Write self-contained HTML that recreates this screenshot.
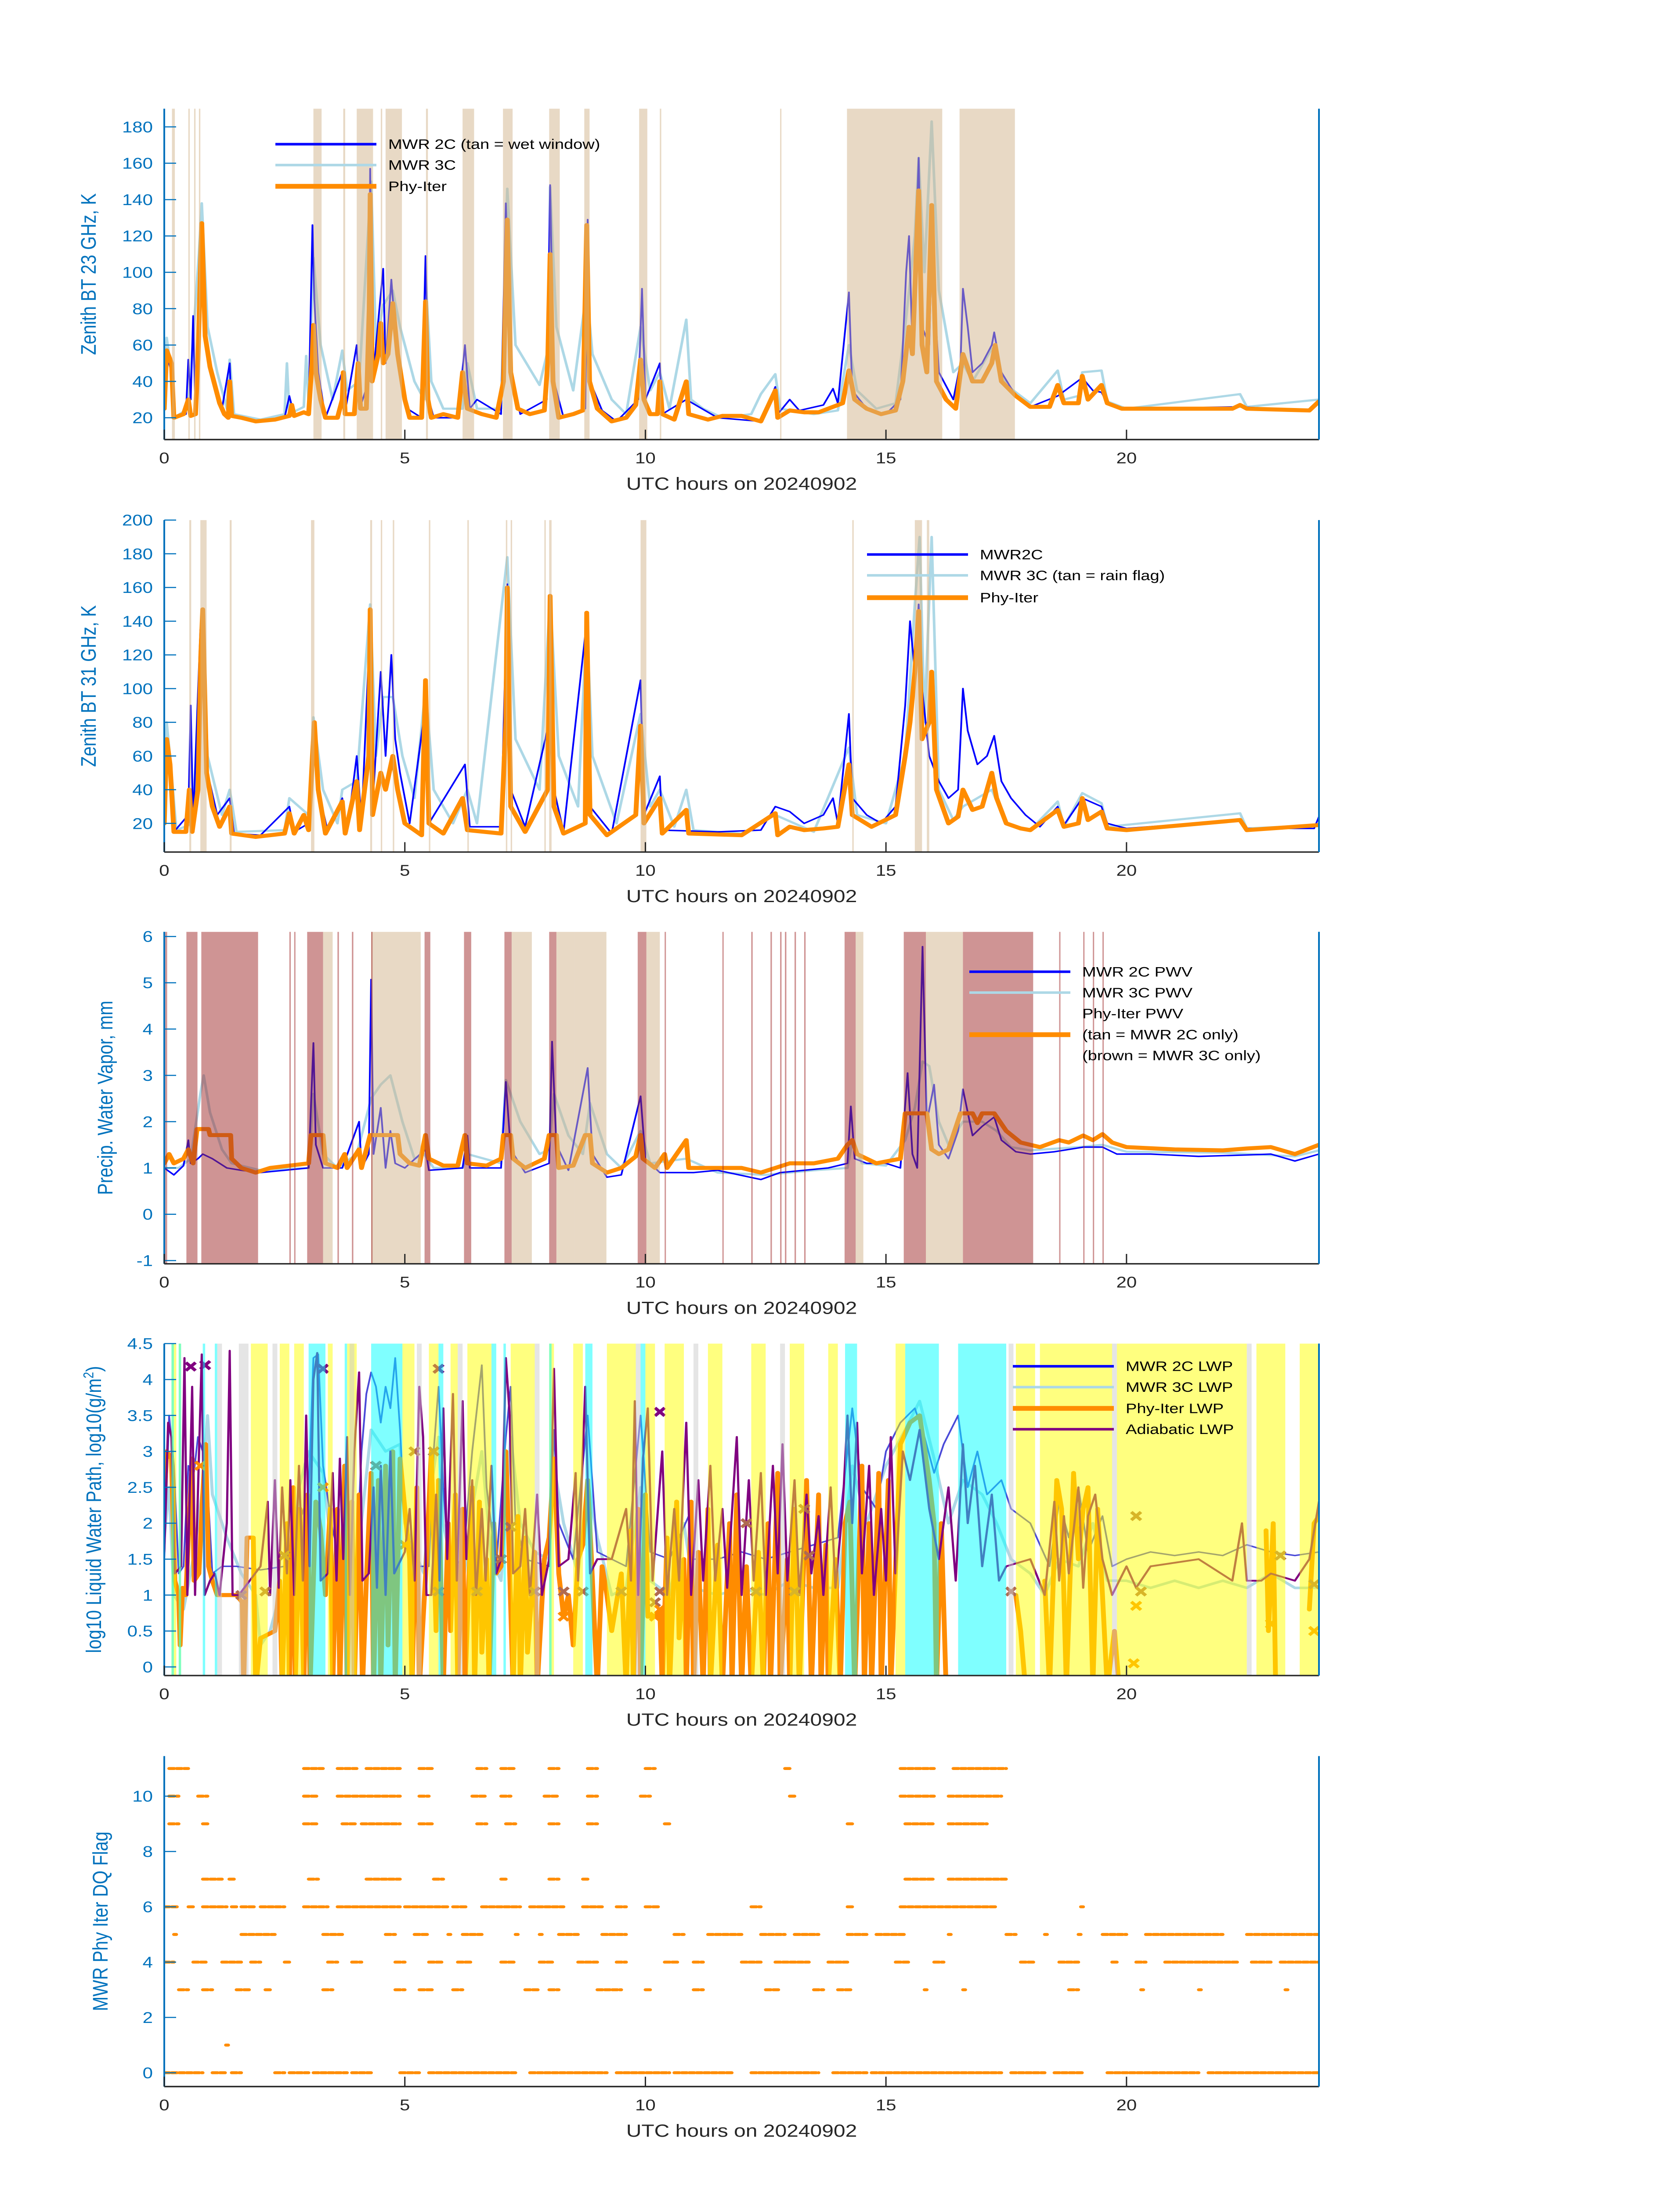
<!DOCTYPE html>
<html><head><meta charset="utf-8"><style>
html,body{margin:0;padding:0;background:#fff;width:100%;height:100%;overflow:hidden;}
svg{display:block;position:absolute;left:0;top:0;width:100%;height:100%;font-family:"Liberation Sans","DejaVu Sans",sans-serif;}
</style></head><body>
<svg id="fig" width="100%" height="100%" viewBox="0 0 3825 6000" preserveAspectRatio="none" xmlns="http://www.w3.org/2000/svg"></svg>
<script>
// ---------------- DATA ----------------
const xTicks=[0,5,10,15,20];
const yTicks1=[20,40,60,80,100,120,140,160,180];
const yTicks2=[20,40,60,80,100,120,140,160,180,200];
const yTicks3=[-1,0,1,2,3,4,5,6];
const yTicks4=[0,0.5,1,1.5,2,2.5,3,3.5,4,4.5];
const yTickLabels4=["0","0.5","1","1.5","2","2.5","3","3.5","4","4.5"];
const yTicks5=[0,2,4,6,8,10];

// Panel 1: 23 GHz BT
const tb23_2c=[[0,25],[0.05,55],[0.15,45],[0.2,20],[0.45,22],[0.5,52],[0.55,30],[0.6,76],[0.65,22],[0.72,100],[0.78,120],[0.85,60],[1.0,40],[1.2,25],[1.36,50],[1.4,21],[1.9,18],[2.5,20],[2.6,32],[2.7,21],[3.0,23],[3.08,126],[3.12,85],[3.2,45],[3.35,20],[3.7,45],[3.75,22],[4.0,60],[4.06,25],[4.25,40],[4.28,157],[4.33,40],[4.55,102],[4.6,50],[4.72,96],[4.85,50],[5.05,25],[5.35,20],[5.43,109],[5.5,30],[5.6,20],[6.1,20],[6.25,60],[6.35,25],[6.5,30],[7.0,22],[7.1,138],[7.2,45],[7.4,22],[7.95,30],[8.02,148],[8.1,40],[8.3,20],[8.75,25],[8.8,129],[8.85,40],[9.1,24],[9.4,18],[9.85,30],[9.93,91],[10.0,30],[10.3,50],[10.35,22],[10.85,30],[11.5,20],[12.4,18],[12.7,37],[12.75,22],[13.0,30],[13.2,24],[13.7,27],[13.9,36],[14.0,28],[14.23,89],[14.3,35],[14.6,25],[15.0,22],[15.3,30],[15.42,100],[15.48,120],[15.55,60],[15.68,163],[15.75,70],[15.9,60],[15.95,110],[16.1,45],[16.4,30],[16.55,50],[16.6,91],[16.7,70],[16.8,45],[17.0,50],[17.2,60],[17.25,67],[17.4,45],[17.7,32],[18.0,26],[18.57,32],[19.08,42],[19.3,35],[19.48,34],[19.6,28],[19.9,25],[22.36,26],[23.8,24],[24,29]];
const tb23_3c=[[0,30],[0.05,64],[0.15,45],[0.2,20],[0.5,25],[0.72,110],[0.78,138],[0.9,70],[1.1,45],[1.3,25],[1.36,52],[1.45,22],[2.0,19],[2.5,22],[2.55,50],[2.6,22],[2.9,26],[2.95,54],[3.0,28],[3.1,108],[3.25,60],[3.5,30],[3.7,57],[3.8,35],[4.05,40],[4.3,150],[4.4,60],[4.55,82],[4.75,90],[4.9,70],[5.2,40],[5.4,30],[5.43,98],[5.55,40],[5.8,25],[6.2,25],[6.3,50],[6.5,25],[7.0,25],[7.13,146],[7.3,60],[7.8,38],[8.0,60],[8.02,147],[8.15,70],[8.5,35],[8.78,90],[8.9,55],[9.3,30],[9.6,22],[9.9,70],[10.1,35],[10.3,45],[10.5,25],[10.85,74],[10.95,30],[11.2,25],[11.6,20],[12.2,22],[12.4,33],[12.7,44],[12.8,25],[13.5,22],[14.0,24],[14.23,60],[14.4,35],[14.8,25],[15.2,28],[15.4,70],[15.6,120],[15.68,163],[15.8,100],[15.95,183],[16.1,90],[16.4,45],[16.6,50],[16.8,40],[17.2,58],[17.5,38],[18.0,28],[18.57,46],[18.7,30],[19.0,32],[19.08,45],[19.48,46],[19.6,29],[20.0,25],[22.36,33],[22.5,26],[24,30]];
const tb23_phy=[[0,25],[0.05,57],[0.15,50],[0.2,20],[0.4,22],[0.5,30],[0.55,21],[0.65,22],[0.7,52],[0.75,100],[0.78,127],[0.85,65],[0.95,48],[1.05,38],[1.15,28],[1.25,22],[1.33,20],[1.36,40],[1.4,21],[1.6,20],[1.9,18],[2.3,19],[2.6,21],[2.65,27],[2.7,21],[2.9,23],[3.0,22],[3.07,50],[3.1,71],[3.15,45],[3.25,30],[3.35,20],[3.6,20],[3.7,30],[3.72,45],[3.76,22],[3.95,22],[4.03,50],[4.08,25],[4.2,25],[4.26,80],[4.28,143],[4.32,40],[4.45,55],[4.5,72],[4.55,50],[4.65,55],[4.75,83],[4.85,55],[5.0,30],[5.1,20],[5.35,20],[5.43,84],[5.48,30],[5.55,20],[5.8,22],[6.1,20],[6.2,45],[6.3,25],[6.6,22],[6.9,20],[7.05,40],[7.13,129],[7.2,45],[7.35,25],[7.6,22],[7.9,24],[7.97,50],[8.02,110],[8.08,40],[8.2,20],[8.5,22],[8.7,24],[8.78,126],[8.84,40],[9.0,25],[9.3,18],[9.6,20],[9.8,27],[9.9,52],[9.97,30],[10.1,22],[10.25,22],[10.3,40],[10.35,22],[10.6,19],[10.85,40],[10.9,22],[11.3,19],[11.6,21],[12.0,21],[12.4,18],[12.7,35],[12.75,20],[13.0,24],[13.3,23],[13.6,23],[13.9,26],[14.1,28],[14.23,46],[14.35,30],[14.6,25],[14.9,22],[15.2,24],[15.35,40],[15.48,70],[15.55,55],[15.65,125],[15.68,145],[15.75,60],[15.85,45],[15.95,137],[16.05,40],[16.25,30],[16.45,25],[16.55,45],[16.6,55],[16.8,40],[17.0,40],[17.2,50],[17.27,60],[17.4,40],[17.7,32],[18.0,26],[18.4,26],[18.57,38],[18.7,28],[19.0,28],[19.08,43],[19.2,30],[19.48,38],[19.6,28],[19.9,25],[21.0,25],[22.2,25],[22.36,27],[22.5,25],[23.8,24],[24,29]];
const bands1_tan=[[0.16,0.22],[0.5,0.53],[0.62,0.65],[0.72,0.75],[3.1,3.27],[3.72,3.76],[4.0,4.34],[4.5,4.53],[4.6,4.94],[5.44,5.48],[6.2,6.44],[7.04,7.24],[8.0,8.22],[8.73,8.84],[9.87,10.04],[10.3,10.33],[12.8,12.82],[14.19,16.17],[16.53,17.68]];

// Panel 2: 31 GHz BT
const tb31_2c=[[0,20],[0.05,65],[0.15,40],[0.2,15],[0.5,25],[0.55,90],[0.6,20],[0.75,135],[0.8,130],[0.9,50],[1.1,25],[1.36,35],[1.45,14],[2.0,13],[2.6,30],[2.7,15],[3.0,20],[3.1,65],[3.2,40],[3.4,15],[3.7,35],[3.8,15],[4.0,60],[4.1,20],[4.28,140],[4.35,40],[4.5,110],[4.6,60],[4.72,120],[4.8,70],[4.9,50],[5.1,20],[5.43,90],[5.5,20],[6.25,55],[6.35,18],[7.0,18],[7.13,162],[7.2,40],[7.5,18],[8.0,80],[8.02,150],[8.1,40],[8.3,15],[8.8,145],[8.85,30],[9.3,14],[9.9,105],[9.97,25],[10.3,48],[10.35,16],[11.5,15],[12.4,16],[12.7,30],[13.0,27],[13.3,20],[13.7,25],[13.9,35],[14.0,20],[14.23,85],[14.3,35],[14.6,25],[14.9,20],[15.2,30],[15.4,90],[15.5,140],[15.6,110],[15.68,150],[15.75,100],[15.9,60],[16.1,45],[16.3,35],[16.5,40],[16.6,100],[16.7,75],[16.9,55],[17.1,60],[17.25,72],[17.4,45],[17.6,35],[17.9,25],[18.2,18],[18.57,30],[18.7,19],[19.08,35],[19.48,30],[19.6,20],[20.0,17],[22.36,22],[22.5,17],[23.9,17],[24,24]];
const tb31_3c=[[0,25],[0.05,80],[0.15,50],[0.25,16],[0.6,20],[0.78,145],[0.9,60],[1.2,25],[1.36,40],[1.5,15],[2.5,16],[2.6,35],[3.0,25],[3.1,83],[3.3,40],[3.6,20],[3.7,40],[4.0,45],[4.28,150],[4.4,60],[4.55,95],[4.75,95],[4.95,60],[5.2,35],[5.43,100],[5.6,40],[6.0,20],[6.3,40],[6.5,20],[7.13,178],[7.3,70],[7.8,40],[8.02,155],[8.2,60],[8.6,30],[8.78,140],[8.9,60],[9.4,20],[9.9,85],[10.1,30],[10.3,40],[10.6,18],[10.85,40],[11.0,16],[12.0,14],[12.7,25],[13.5,15],[14.23,65],[14.4,25],[15.0,20],[15.4,60],[15.6,150],[15.7,190],[15.8,80],[15.95,190],[16.1,40],[16.4,22],[16.6,30],[17.2,40],[17.5,20],[18.0,16],[18.57,33],[18.7,18],[19.08,38],[19.48,32],[19.6,18],[22.36,26],[22.5,17],[24,19]];
const tb31_phy=[[0,20],[0.05,70],[0.12,55],[0.2,15],[0.45,15],[0.52,40],[0.58,15],[0.7,40],[0.76,120],[0.8,147],[0.88,50],[1.0,30],[1.15,18],[1.36,30],[1.4,14],[1.9,12],[2.5,14],[2.6,26],[2.7,14],[2.9,25],[3.0,16],[3.08,60],[3.12,80],[3.2,40],[3.35,14],[3.7,33],[3.76,14],[4.0,45],[4.06,16],[4.25,60],[4.28,147],[4.33,25],[4.5,50],[4.6,40],[4.75,60],[4.85,40],[5.0,20],[5.35,13],[5.43,105],[5.5,20],[5.8,14],[6.2,35],[6.3,16],[7.0,14],[7.1,80],[7.13,160],[7.2,30],[7.5,15],[7.97,40],[8.02,155],[8.1,30],[8.3,14],[8.75,20],[8.78,145],[8.85,25],[9.2,13],[9.8,25],[9.9,78],[9.97,20],[10.3,35],[10.35,14],[10.85,28],[10.9,14],[12.0,13],[12.7,26],[12.75,13],[13.0,18],[13.3,16],[13.7,17],[14.0,18],[14.23,55],[14.3,25],[14.7,18],[15.2,25],[15.4,60],[15.5,80],[15.6,110],[15.68,146],[15.75,70],[15.9,80],[15.95,110],[16.05,40],[16.3,20],[16.5,24],[16.6,40],[16.8,28],[17.0,30],[17.2,50],[17.3,35],[17.5,20],[17.8,17],[18.0,16],[18.57,28],[18.7,18],[19.0,20],[19.08,35],[19.2,22],[19.48,27],[19.6,17],[20.0,16],[22.36,22],[22.5,16],[24,19]];
const bands2_tan=[[0.52,0.56],[0.75,0.88],[1.36,1.4],[3.05,3.12],[4.28,4.32],[4.5,4.53],[4.75,4.78],[5.5,5.53],[6.3,6.33],[7.1,7.13],[7.2,7.23],[7.9,7.93],[8.0,8.05],[9.9,10.02],[14.3,14.33],[15.6,15.75],[15.85,15.9]];

// Panel 3: PWV
const pwv_2c=[[0,1.0],[0.2,0.85],[0.4,1.05],[0.5,1.6],[0.55,1.1],[0.7,1.2],[0.8,1.3],[1.0,1.2],[1.3,1.0],[1.6,0.95],[2.0,0.9],[2.5,0.95],[3.0,1.0],[3.1,3.7],[3.15,1.5],[3.3,1.0],[3.7,1.0],[4.05,2.0],[4.1,1.0],[4.25,1.3],[4.3,5.07],[4.35,1.3],[4.5,2.3],[4.6,1.0],[4.7,1.8],[4.8,1.1],[5.0,1.0],[5.43,1.4],[5.5,0.95],[6.2,1.0],[6.3,1.7],[6.35,1.0],[7.0,1.0],[7.1,2.86],[7.2,1.4],[7.5,0.9],[8.0,1.1],[8.06,3.73],[8.15,1.5],[8.4,0.95],[8.8,3.16],[8.9,1.3],[9.2,0.8],[9.5,0.85],[9.9,2.55],[10.0,1.2],[10.3,0.9],[11.0,0.9],[11.5,0.95],[12.4,0.75],[12.8,0.9],[13.3,0.95],[13.8,1.0],[14.2,1.1],[14.27,2.33],[14.35,1.2],[14.6,1.1],[15.0,1.1],[15.3,1.0],[15.45,3.05],[15.55,1.3],[15.65,1.0],[15.76,5.78],[15.85,2.0],[16.0,2.8],[16.1,1.5],[16.3,1.2],[16.5,1.8],[16.6,2.7],[16.8,1.7],[17.0,1.9],[17.25,2.1],[17.4,1.6],[17.7,1.35],[18.0,1.3],[18.5,1.35],[19.1,1.45],[19.5,1.45],[19.8,1.3],[20.5,1.3],[21.5,1.25],[22.5,1.28],[23.0,1.3],[23.5,1.15],[24,1.3]];
const pwv_3c=[[0,1.0],[0.3,1.0],[0.55,1.2],[0.75,2.6],[0.82,3.0],[0.95,2.2],[1.2,1.4],[1.4,1.1],[2.0,0.95],[3.0,1.0],[3.1,2.6],[3.3,1.3],[3.6,1.0],[4.0,1.3],[4.3,2.5],[4.5,2.8],[4.7,3.0],[4.95,2.0],[5.2,1.2],[5.4,1.3],[5.6,1.0],[6.2,1.0],[6.3,1.3],[7.0,1.1],[7.1,2.9],[7.4,2.0],[7.8,1.3],[8.0,1.4],[8.1,2.6],[8.4,1.7],[8.7,1.3],[8.85,2.4],[9.2,1.3],[9.5,1.0],[9.9,1.8],[10.1,1.1],[10.85,1.2],[11.5,0.9],[12.5,0.85],[13.5,0.95],[14.2,1.0],[14.3,1.6],[14.5,1.1],[15.0,1.05],[15.4,1.6],[15.6,2.3],[15.76,3.3],[15.9,3.2],[16.1,2.0],[16.3,1.5],[16.6,2.0],[17.0,2.0],[17.3,1.8],[17.6,1.45],[18.0,1.38],[19.0,1.45],[19.5,1.5],[20.0,1.35],[22.0,1.33],[23.5,1.25],[24,1.38]];
const pwv_phy=[[0,1.1],[0.1,1.3],[0.2,1.1],[0.4,1.2],[0.5,1.4],[0.6,1.1],[0.68,1.84],[0.92,1.84],[0.95,1.71],[1.38,1.71],[1.4,1.2],[1.6,1.0],[1.9,0.9],[2.2,1.0],[2.6,1.05],[3.0,1.1],[3.05,1.71],[3.3,1.71],[3.35,1.1],[3.6,1.0],[3.75,1.3],[3.8,1.0],[4.05,1.4],[4.1,1.0],[4.28,1.71],[4.85,1.71],[4.9,1.3],[5.1,1.1],[5.3,1.05],[5.43,1.71],[5.5,1.2],[5.8,1.05],[6.1,1.05],[6.25,1.71],[6.3,1.1],[6.7,1.05],[7.0,1.2],[7.05,1.71],[7.2,1.71],[7.25,1.2],[7.5,1.0],[7.9,1.2],[8.0,1.71],[8.15,1.71],[8.2,1.0],[8.5,1.05],[8.75,1.71],[8.85,1.71],[8.9,1.1],[9.2,0.9],[9.5,1.0],[9.8,1.25],[9.9,1.71],[9.95,1.2],[10.2,1.0],[10.4,1.3],[10.45,1.0],[10.85,1.6],[10.9,1.0],[11.5,1.0],[12.0,1.0],[12.4,0.9],[12.7,1.0],[13.0,1.1],[13.5,1.1],[14.0,1.2],[14.2,1.5],[14.3,1.6],[14.4,1.3],[14.8,1.1],[15.3,1.2],[15.4,2.18],[15.85,2.18],[15.95,1.4],[16.1,1.3],[16.3,1.4],[16.55,2.18],[16.8,2.18],[16.9,1.97],[17.0,2.18],[17.25,2.18],[17.5,1.8],[17.8,1.55],[18.2,1.45],[18.6,1.6],[18.8,1.55],[19.1,1.7],[19.3,1.6],[19.5,1.73],[19.7,1.55],[20.0,1.45],[21.0,1.4],[22.0,1.38],[22.5,1.42],[23.0,1.45],[23.5,1.3],[24,1.5]];
const bands3_brown=[[0.02,0.06],[0.46,0.69],[0.77,1.95],[2.6,2.63],[2.7,2.72],[2.97,3.3],[3.6,3.63],[3.9,3.93],[4.3,4.33],[5.41,5.53],[6.23,6.38],[7.07,7.22],[8.0,8.15],[9.84,10.02],[10.4,10.42],[11.6,11.62],[12.2,12.23],[12.6,12.63],[12.8,12.83],[12.9,12.93],[13.1,13.13],[13.3,13.33],[14.14,14.37],[15.37,15.83],[16.6,18.06],[18.6,18.62],[19.1,19.12],[19.3,19.32],[19.5,19.52]];
const bands3_tan=[[3.3,3.5],[4.3,5.33],[7.22,7.64],[8.15,8.53],[8.53,9.19],[10.02,10.3],[14.37,14.53],[15.83,16.6]];

// Panel 4: LWP
const lwp_2c=[[0,1.5],[0.1,3.5],[0.2,2.8],[0.3,1.3],[0.4,1.4],[0.5,2.8],[0.6,2.6],[0.7,3.2],[0.8,3.0],[0.9,2.5],[1.0,1.3],[1.2,1.4],[1.5,1.4],[2.0,1.35],[2.5,1.4],[3.0,2.4],[3.1,4.3],[3.2,4.35],[3.3,2.8],[3.5,1.9],[3.7,1.4],[3.9,1.3],[4.0,1.5],[4.1,3.0],[4.2,3.8],[4.3,4.1],[4.4,3.9],[4.5,3.4],[4.6,3.9],[4.7,3.6],[4.8,4.3],[4.9,3.3],[5.0,2.0],[5.2,1.4],[5.5,1.4],[5.6,3.0],[5.7,3.9],[5.8,2.5],[5.9,1.6],[6.2,1.4],[6.4,3.0],[6.6,4.2],[6.7,2.5],[6.9,1.4],[7.1,3.2],[7.2,3.9],[7.3,2.0],[7.5,1.5],[8.0,1.4],[8.1,3.3],[8.2,2.0],[8.5,1.5],[8.8,3.5],[9.0,1.6],[9.3,1.5],[9.6,1.4],[9.9,3.5],[10.1,1.6],[10.5,1.5],[10.9,2.1],[11.0,1.5],[11.5,1.5],[12.0,1.6],[12.5,1.5],[13.0,1.6],[13.5,1.7],[14.0,1.8],[14.3,3.6],[14.5,2.5],[14.8,2.2],[15.0,3.0],[15.3,3.4],[15.6,3.6],[15.8,3.2],[16.0,2.7],[16.2,3.1],[16.5,3.5],[16.7,2.5],[16.9,3.0],[17.1,2.4],[17.4,2.6],[17.6,2.2],[18.0,2.0],[18.4,1.4],[18.6,2.3],[18.8,1.8],[19.0,2.5],[19.2,1.6],[19.5,2.1],[19.7,1.4],[20.0,1.5],[20.5,1.6],[21.0,1.55],[21.5,1.6],[22.0,1.55],[22.5,1.7],[23.0,1.6],[23.5,1.55],[24,1.6]];
const lwp_3c=[[0,1.8],[0.1,2.5],[0.2,1.0],[0.4,0.8],[0.6,1.5],[0.8,2.5],[0.9,3.5],[1.0,2.4],[1.3,1.8],[1.6,1.3],[1.9,1.0],[2.0,0.3],[2.2,0.5],[2.4,1.0],[2.6,0.8],[2.8,2.5],[3.0,3.0],[3.3,2.7],[3.5,1.5],[3.7,1.0],[3.9,0.8],[4.0,1.4],[4.3,3.3],[4.6,3.0],[4.9,3.1],[5.0,2.0],[5.2,1.6],[5.4,1.3],[5.5,2.3],[5.7,3.2],[5.8,2.0],[6.0,1.3],[6.2,1.1],[6.4,2.2],[6.6,3.0],[6.8,1.5],[7.0,1.2],[7.2,3.2],[7.4,2.0],[7.7,1.6],[8.0,1.5],[8.1,2.8],[8.3,2.0],[8.6,1.3],[8.8,2.6],[9.0,1.8],[9.3,1.0],[9.6,1.1],[9.9,2.5],[10.1,1.2],[10.5,1.0],[10.8,2.0],[11.0,1.1],[11.5,1.0],[12.0,1.1],[12.5,1.0],[13.0,1.2],[13.5,1.1],[14.0,1.1],[14.3,2.8],[14.6,2.0],[15.0,2.8],[15.4,3.3],[15.7,3.7],[16.0,2.9],[16.3,2.0],[16.6,2.6],[17.0,2.4],[17.3,2.0],[17.6,1.5],[18.0,1.3],[18.3,1.0],[18.6,1.5],[19.0,1.4],[19.3,2.0],[19.6,1.2],[20.0,1.2],[20.5,1.1],[21.0,1.2],[21.5,1.1],[22.0,1.2],[22.5,1.1],[23.0,1.3],[23.5,1.1],[24,1.1]];
const lwp_phy=[[0,2.3],[0.05,3.0],[0.15,2.9],[0.22,1.2],[0.3,1.0],[0.33,0.3],[0.38,1.1],[0.45,1.0],[0.5,1.8],[0.58,2.9],[0.62,1.2],[0.72,1.3],[0.8,2.4],[0.86,3.1],[0.92,1.4],[1.0,1.2],[1.1,1.0],[1.5,1.0],[1.62,0.9],[1.65,-0.3],[1.72,1.8],[1.85,1.8],[1.9,-0.3],[2.0,0.4],[2.3,0.5],[2.4,1.2],[2.45,-0.3],[2.55,2.0],[2.6,-0.3],[2.68,2.5],[2.72,-0.3],[2.82,2.2],[2.9,-0.3],[2.98,2.4],[3.03,-0.3],[3.15,2.3],[3.25,1.9],[3.35,1.0],[3.45,2.2],[3.5,-0.3],[3.6,2.2],[3.65,-0.3],[3.75,2.8],[3.8,-0.3],[3.9,2.3],[3.95,-0.3],[4.05,2.4],[4.12,-0.3],[4.2,1.2],[4.3,2.7],[4.35,-0.3],[4.45,2.6],[4.5,-0.3],[4.6,2.8],[4.65,0.3],[4.75,3.0],[4.8,-0.3],[4.9,2.9],[5.0,2.2],[5.1,1.5],[5.15,-0.3],[5.25,2.5],[5.3,-0.3],[5.45,1.5],[5.55,3.0],[5.65,0.5],[5.7,2.6],[5.8,-0.3],[5.9,2.0],[5.95,0.5],[6.05,2.4],[6.1,-0.3],[6.2,2.2],[6.25,-0.3],[6.4,2.5],[6.45,-0.3],[6.55,2.3],[6.6,0.2],[6.7,1.5],[6.75,-0.3],[6.85,2.0],[6.9,1.3],[7.0,1.4],[7.1,3.0],[7.15,2.0],[7.25,-0.3],[7.35,2.1],[7.4,-0.3],[7.5,1.8],[7.55,0.2],[7.7,1.6],[7.75,-0.3],[7.9,1.5],[8.0,1.8],[8.1,2.9],[8.2,1.3],[8.3,0.7],[8.4,1.0],[8.5,0.3],[8.6,1.5],[8.7,1.7],[8.8,2.6],[8.9,1.2],[9.0,-0.3],[9.1,1.4],[9.2,1.0],[9.3,0.5],[9.5,1.3],[9.6,-0.3],[9.7,1.9],[9.75,-0.3],[9.85,2.2],[9.9,-0.3],[10.0,2.4],[10.05,0.7],[10.2,0.7],[10.3,0.8],[10.35,-0.3],[10.45,1.8],[10.5,-0.3],[10.65,2.3],[10.7,0.4],[10.8,1.5],[10.85,-0.3],[10.95,2.3],[11.0,-0.3],[11.1,1.6],[11.2,-0.3],[11.3,2.2],[11.35,-0.3],[11.5,1.7],[11.6,-0.3],[11.75,2.0],[11.8,-0.3],[11.9,2.4],[12.0,-0.3],[12.1,1.4],[12.2,-0.3],[12.35,1.6],[12.45,-0.3],[12.55,2.0],[12.6,-0.3],[12.75,2.7],[12.8,-0.3],[12.95,1.5],[13.0,-0.3],[13.1,2.2],[13.2,-0.3],[13.35,2.6],[13.45,-0.3],[13.6,2.4],[13.65,-0.3],[13.75,1.7],[13.8,-0.3],[13.95,1.5],[14.05,-0.3],[14.15,2.0],[14.25,2.3],[14.35,-0.3],[14.5,2.8],[14.55,-0.3],[14.65,2.0],[14.7,-0.3],[14.85,2.7],[14.9,-0.3],[15.05,2.6],[15.1,-0.3],[15.3,3.1],[15.5,3.4],[15.7,3.5],[15.9,2.6],[16.0,2.0],[16.05,-0.3],[16.15,2.0],[16.25,-0.3],null,[17.7,1.0],[17.8,0.5],[17.9,-0.3],null,[18.3,1.2],[18.4,-0.3],[18.55,2.6],[18.65,2.2],[18.75,-0.3],[18.9,2.7],[19.0,1.5],[19.1,2.2],[19.2,2.5],[19.3,-0.3],[19.4,2.2],[19.5,1.0],[19.6,-0.3],[19.75,0.5],[19.85,-0.3],null,[22.9,1.9],[22.95,0.5],[23.05,2.0],[23.1,-0.3],null,[23.8,0.8],[23.9,2.0],[24,2.1]];
const lwp_adiab=[[0,1.6],[0.08,3.4],[0.15,3.2],[0.22,1.3],[0.35,1.4],[0.42,4.3],[0.48,1.0],[0.58,3.9],[0.64,1.0],[0.78,4.35],[0.84,1.0],[0.95,1.2],[1.05,1.3],[1.15,1.0],[1.3,2.0],[1.36,4.4],[1.42,1.0],[1.55,1.0],[2.0,1.4],[2.15,2.3],[2.2,1.0],[2.3,2.6],[2.38,1.1],[2.45,2.5],[2.55,1.3],[2.62,2.6],[2.7,1.0],[2.8,2.8],[2.88,1.2],[2.95,3.5],[3.02,1.4],[3.1,4.0],[3.18,4.37],[3.25,1.2],[3.4,1.3],[3.5,2.7],[3.58,1.2],[3.65,2.9],[3.72,1.5],[3.8,3.2],[3.86,1.0],[3.95,3.0],[4.05,4.1],[4.12,1.2],[4.25,1.3],[4.35,2.5],[4.42,1.1],[4.5,2.8],[4.6,1.0],[4.7,3.0],[4.78,1.3],[4.85,1.4],[5.0,1.6],[5.1,2.2],[5.2,1.2],[5.3,3.9],[5.38,3.2],[5.45,1.0],[5.55,1.0],[5.65,2.4],[5.72,1.2],[5.8,3.6],[5.88,1.5],[6.0,3.8],[6.08,1.2],[6.2,3.7],[6.28,1.5],[6.4,2.6],[6.48,1.0],[6.6,2.2],[6.68,1.2],[6.8,2.8],[6.9,1.3],[7.0,1.5],[7.1,4.3],[7.18,3.5],[7.25,1.3],[7.4,1.4],[7.5,2.2],[7.6,1.0],[7.75,2.4],[7.85,1.0],[8.0,1.5],[8.1,4.15],[8.2,1.4],[8.4,1.5],[8.55,2.7],[8.6,1.2],[8.75,3.9],[8.85,1.3],[9.0,1.5],[9.3,1.5],[9.6,2.2],[9.7,1.2],[9.78,3.7],[9.85,1.0],[9.95,2.9],[10.05,3.6],[10.15,1.2],[10.35,3.0],[10.45,1.0],[10.6,2.2],[10.7,1.2],[10.85,3.4],[10.95,1.0],[11.1,2.6],[11.2,1.2],[11.35,2.8],[11.45,1.2],[11.6,2.2],[11.7,1.1],[11.9,3.2],[12.0,1.0],[12.15,2.6],[12.25,1.2],[12.4,2.7],[12.5,1.0],[12.65,2.8],[12.75,1.3],[12.85,3.1],[12.95,1.2],[13.1,2.6],[13.2,1.0],[13.35,2.4],[13.45,1.3],[13.6,2.1],[13.7,1.0],[13.85,2.5],[13.95,1.1],[14.1,2.2],[14.2,3.5],[14.3,2.0],[14.4,3.4],[14.5,1.3],[14.65,2.8],[14.75,1.0],[14.9,2.2],[15.0,1.2],[15.1,3.2],[15.2,1.3],[15.35,3.0],[15.5,2.6],[15.7,3.3],[15.9,2.2],[16.1,1.5],[16.3,2.5],[16.45,1.2],[16.6,3.1],[16.7,2.0],[16.85,2.8],[17.0,1.4],[17.2,2.4],[17.35,1.2],[17.5,1.4],[18.0,1.5],[18.3,1.0],[18.5,2.3],[18.6,1.2],[18.7,2.1],[18.8,1.3],[19.0,2.5],[19.1,1.1],[19.2,2.1],[19.35,2.4],[19.5,1.5],[19.7,1.0],[20.0,1.4],[20.2,1.1],[20.5,1.4],[21.5,1.5],[22.2,1.2],[22.4,2.0],[22.5,1.2],[22.8,1.2],[23.0,1.3],[23.5,1.2],[23.8,1.5],[24,2.3]];
const lwp_xPurple=[[0.55,4.18],[0.85,4.2],[3.3,4.15],[5.7,4.15],[10.3,3.55]];
const lwp_xBrown=[[1.6,1.0],[2.1,1.05],[2.5,1.55],[4.4,2.8],[5.2,3.0],[5.6,3.0],[5.7,1.05],[6.5,1.05],[7.0,1.5],[7.2,1.95],[7.7,1.05],[8.3,1.05],[8.7,1.05],[9.5,1.05],[10.2,0.9],[10.3,1.05],[12.1,2.0],[12.3,1.05],[13.1,1.05],[13.4,1.55],[13.3,2.2],[17.6,1.05],[20.2,2.1],[20.3,1.05],[23.2,1.55],[23.9,1.15]];
const lwp_xOrange=[[0.75,2.8],[3.3,2.5],[5.0,1.7],[8.3,0.7],[10.2,0.7],[10.3,0.8],[20.2,0.85],[20.15,0.05],[23.0,0.6],[23.9,0.5]];
const bands4_yellow=[[0.15,0.25],[0.3,0.35],[1.8,2.15],[2.4,2.6],[2.7,2.9],[3.4,3.5],[3.8,4.0],[4.95,5.2],[5.5,5.7],[5.95,6.1],[6.3,6.8],[7.2,7.7],[8.0,8.1],[8.5,8.7],[9.2,9.8],[10.0,10.2],[10.4,10.8],[11.3,11.6],[12.2,12.5],[13.0,13.3],[13.8,14.0],[15.2,15.4],[17.7,18.1],[18.2,19.7],[19.8,22.5],[22.7,23.3],[23.6,24]];
const bands4_cyan=[[0.15,0.2],[0.3,0.35],[0.8,0.85],[1.05,1.1],[3.0,3.35],[3.75,3.8],[4.3,4.95],[5.7,5.8],[6.8,6.9],[7.05,7.1],[8.0,8.05],[8.75,8.9],[9.9,10.0],[14.15,14.4],[15.4,16.1],[16.5,17.5]];
const bands4_gray=[[1.1,1.2],[1.55,1.75],[2.25,2.35],[3.85,3.95],[5.25,5.35],[6.1,6.2],[7.7,7.8],[9.8,9.9],[11.0,11.1],[12.8,12.9],[17.55,17.65],[19.7,19.8],[22.5,22.6]];

// Panel 5: DQ flag runs  [flag, startHour, endHour]
const dqRuns=[[11,0.1,0.5],[11,2.9,3.3],[11,3.6,4.0],[11,4.2,4.9],[11,5.3,5.6],[11,6.5,6.7],[11,7.0,7.3],[11,8.0,8.2],[11,8.8,9.0],[11,10.0,10.2],[11,12.9,13.0],[11,15.3,16.0],[11,16.4,17.5],
[10,0.1,0.3],[10,0.7,0.9],[10,2.9,3.2],[10,3.6,4.9],[10,5.3,5.5],[10,6.4,6.7],[10,7.0,7.2],[10,7.9,8.2],[10,8.8,9.0],[10,9.9,10.1],[10,13.0,13.1],[10,15.3,16.0],[10,16.3,17.4],
[9,0.1,0.3],[9,0.8,0.9],[9,2.9,3.2],[9,3.7,4.0],[9,4.1,4.9],[9,5.3,5.6],[9,6.5,6.7],[9,7.1,7.3],[9,8.0,8.2],[9,8.8,9.0],[9,10.4,10.5],[9,14.2,14.3],[9,15.4,16.0],[9,16.3,17.1],
[7,0.8,1.2],[7,1.35,1.45],[7,3.0,3.2],[7,4.2,4.9],[7,5.6,5.8],[7,7.0,7.1],[7,8.0,8.2],[7,8.7,8.8],[7,15.4,16.0],[7,16.3,17.5],
[6,0.0,0.3],[6,0.5,0.6],[6,0.8,1.3],[6,1.4,1.5],[6,1.6,1.9],[6,2.0,2.5],[6,2.9,3.4],[6,3.6,4.9],[6,5.0,5.9],[6,6.0,6.3],[6,6.6,7.4],[6,7.6,8.3],[6,8.7,9.1],[6,9.4,9.6],[6,10.0,10.3],[6,12.2,12.4],[6,14.2,14.3],[6,15.3,17.3],[6,19.05,19.1],
[5,0.2,0.25],[5,1.6,2.3],[5,3.3,3.7],[5,4.6,4.8],[5,5.2,5.5],[5,5.9,5.95],[5,6.2,6.6],[5,7.3,7.35],[5,7.8,7.85],[5,8.2,8.6],[5,9.1,9.6],[5,10.6,10.8],[5,11.3,12.0],[5,12.4,12.9],[5,13.1,13.6],[5,14.2,14.6],[5,14.8,15.4],[5,16.3,16.35],[5,17.5,17.7],[5,18.3,18.35],[5,19.0,19.05],[5,19.5,20.0],[5,20.4,22.0],[5,22.5,24.0],
[4,0.0,0.2],[4,0.6,0.9],[4,1.2,1.6],[4,1.8,2.0],[4,2.5,2.6],[4,3.4,3.6],[4,3.9,4.1],[4,4.8,5.0],[4,5.5,5.8],[4,6.1,6.4],[4,7.0,7.3],[4,7.8,8.1],[4,8.6,9.0],[4,9.4,9.6],[4,10.4,10.7],[4,11.0,11.2],[4,12.0,12.4],[4,12.7,13.4],[4,13.8,14.2],[4,15.2,15.5],[4,16.0,16.2],[4,17.8,18.1],[4,18.6,19.0],[4,19.7,19.8],[4,20.2,20.4],[4,20.8,22.3],[4,22.6,23.0],[4,23.2,24.0],
[3,0.3,0.5],[3,0.8,1.0],[3,1.5,1.8],[3,2.1,2.2],[3,3.3,3.5],[3,4.8,5.0],[3,5.3,5.6],[3,6.0,6.2],[3,7.5,7.8],[3,8.0,8.2],[3,9.0,9.5],[3,10.0,10.1],[3,11.0,11.2],[3,12.5,12.8],[3,13.5,13.7],[3,14.0,14.3],[3,15.8,15.85],[3,16.6,16.65],[3,18.8,19.0],[3,20.3,20.35],[3,21.5,21.55],[3,23.3,23.35],
[1,1.28,1.33],
[0,0.0,0.8],[0,1.0,1.3],[0,1.4,1.6],[0,2.3,2.5],[0,2.6,3.0],[0,3.1,3.8],[0,3.9,4.3],[0,4.9,5.3],[0,5.5,7.3],[0,7.6,9.2],[0,9.4,10.5],[0,10.6,11.8],[0,12.2,13.6],[0,13.9,14.6],[0,14.7,17.4],[0,17.6,18.3],[0,18.5,19.1],[0,19.6,21.5],[0,21.7,24.0]];

// ---------------- RENDER ----------------
const NS='http://www.w3.org/2000/svg';
const svg=document.getElementById('fig');
const X0=374, X1=3003;
const TOPS=[297,1421,2546,3671,4798], BOTS=[1201,2328,3453,4578,5701];
const YL=[[8,190],[3,200],[-1.07,6.1],[-0.12,4.5],[-0.5,11.45]];
function el(tag,attrs,parent){const e=document.createElementNS(NS,tag);for(const k in attrs)e.setAttribute(k,attrs[k]);(parent||svg).appendChild(e);return e;}
function xs(h){return X0+(h/24)*(X1-X0);}
function ysf(p){const [a,b]=YL[p];return v=>BOTS[p]-(v-a)/(b-a)*(BOTS[p]-TOPS[p]);}

function panelGroup(p,name){
  const g=el('g',{});
  
  
  const cp=el('clipPath',{id:'clip'+p},g);
  el('rect',{x:X0,y:TOPS[p],width:X1-X0,height:BOTS[p]-TOPS[p]},cp);
  const inner=el('g',{'clip-path':'url(#clip'+p+')'},g);
  
  
  return {g,inner};
}
function drawLine(parent,p,data,color,w,name,op){
  const y=ysf(p);let d='',pen=false;
  for(const pt of data){if(pt===null){pen=false;continue;}d+=(pen?'L':'M')+xs(pt[0]).toFixed(1)+' '+y(pt[1]).toFixed(1);pen=true;}
  const path=el('path',{d:d,fill:'none',stroke:color,'stroke-width':w,'stroke-linejoin':'round','stroke-linecap':'round',opacity:op||1},parent);
  
  
}
function drawBands(parent,p,bands,color,op,name){
  for(const b of bands){
    const r=el('rect',{x:xs(b[0]),y:TOPS[p],width:Math.max(3,xs(b[1])-xs(b[0])),height:BOTS[p]-TOPS[p],fill:color,opacity:op},parent);
    
    
  }
}
function drawAxes(g,p,ticks,labels,ylabel,ylx){
  const y=ysf(p);
  const ax=el('g',{},g);
  
  
  el('line',{x1:X0,y1:BOTS[p],x2:X1,y2:BOTS[p],stroke:'#262626','stroke-width':4},ax);
  el('line',{x1:X0,y1:TOPS[p],x2:X0,y2:BOTS[p],stroke:'#0072BD','stroke-width':4},ax);
  el('line',{x1:X1,y1:TOPS[p],x2:X1,y2:BOTS[p],stroke:'#0072BD','stroke-width':4},ax);
  ticks.forEach((t,i)=>{
    el('line',{x1:X0,y1:y(t),x2:X0+27,y2:y(t),stroke:'#0072BD','stroke-width':3},ax);
    const tx=el('text',{x:348,y:y(t)+15,'text-anchor':'end','font-size':42,fill:'#0072BD'},ax);
    tx.textContent=labels?labels[i]:String(t);
    
    
  });
  xTicks.forEach(t=>{
    el('line',{x1:xs(t),y1:BOTS[p],x2:xs(t),y2:BOTS[p]-27,stroke:'#262626','stroke-width':3},ax);
    const tx=el('text',{x:xs(t),y:BOTS[p]+65,'text-anchor':'middle','font-size':42,fill:'#262626'},ax);
    tx.textContent=String(t);
    
    
  });
  const xl=el('text',{x:(X0+X1)/2,y:BOTS[p]+137,'text-anchor':'middle','font-size':48,fill:'#262626'},ax);
  xl.textContent='UTC hours on 20240902';
  
  
  const cy=(TOPS[p]+BOTS[p])/2;
  const yl=el('text',{x:ylx,y:cy,'text-anchor':'middle','font-size':48,fill:'#0072BD',transform:'rotate(-90 '+ylx+' '+cy+')'},ax);
  
  
  if(Array.isArray(ylabel)){yl.appendChild(document.createTextNode(ylabel[0]));const ts=el('tspan',{'baseline-shift':'super','font-size':32},yl);ts.textContent='2';yl.appendChild(document.createTextNode(ylabel[1]));}
  else yl.textContent=ylabel;
}
function legend(g,x,rows){
  const lg=el('g',{},g);
  
  
  rows.forEach(r=>{
    if(r.c){const l=el('line',{x1:x,y1:r.y,x2:x+230,y2:r.y,stroke:r.c,'stroke-width':r.w},lg);
      
      }
    const t=el('text',{x:x+257,y:r.y+13,'font-size':38,fill:'#000'},lg);
    t.textContent=r.t;
    
    
  });
}
function drawX(parent,p,pts,color,name){
  const y=ysf(p);
  for(const q of pts){const cx=xs(q[0]),cy=y(q[1]);
    const m=el('path',{d:`M${cx-11} ${cy-11}L${cx+11} ${cy+11}M${cx-11} ${cy+11}L${cx+11} ${cy-11}`,stroke:color,'stroke-width':8,fill:'none'},parent);
    
    }
}

// Panel 1
{const {g,inner}=panelGroup(0,'panel-23ghz');
 drawLine(inner,0,tb23_3c,'#add8e6',6,'series-mwr-3c');
 drawLine(inner,0,tb23_2c,'#0000ff',4,'series-mwr-2c');
 drawLine(inner,0,tb23_phy,'#ff8c00',11,'series-phy-iter');
 drawBands(inner,0,bands1_tan,'#d2b48c',0.5,'wet-window-band');
 drawAxes(g,0,yTicks1,null,'Zenith BT 23 GHz, K',218);
 legend(g,627,[{y:394,c:'#0000ff',w:7,t:'MWR 2C (tan = wet window)'},{y:451,c:'#add8e6',w:7,t:'MWR 3C'},{y:509,c:'#ff8c00',w:13,t:'Phy-Iter'}]);}
// Panel 2
{const {g,inner}=panelGroup(1,'panel-31ghz');
 drawLine(inner,1,tb31_3c,'#add8e6',6,'series-mwr-3c');
 drawLine(inner,1,tb31_2c,'#0000ff',4,'series-mwr-2c');
 drawLine(inner,1,tb31_phy,'#ff8c00',11,'series-phy-iter');
 drawBands(inner,1,bands2_tan,'#d2b48c',0.5,'rain-flag-band');
 drawAxes(g,1,yTicks2,null,'Zenith BT 31 GHz, K',218);
 legend(g,1974,[{y:1515,c:'#0000ff',w:7,t:'MWR2C'},{y:1572,c:'#add8e6',w:7,t:'MWR 3C (tan = rain flag)'},{y:1633,c:'#ff8c00',w:13,t:'Phy-Iter'}]);}
// Panel 3
{const {g,inner}=panelGroup(2,'panel-pwv');
 drawLine(inner,2,pwv_3c,'#add8e6',6,'series-mwr-3c-pwv');
 drawLine(inner,2,pwv_2c,'#0000ff',4,'series-mwr-2c-pwv');
 drawLine(inner,2,pwv_phy,'#ff8c00',11,'series-phy-iter-pwv');
 drawBands(inner,2,bands3_tan,'#d2b48c',0.5,'mwr-2c-only-band');
 drawBands(inner,2,bands3_brown,'#a02a2a',0.5,'mwr-3c-only-band');
 drawAxes(g,2,yTicks3,null,'Precip. Water Vapor, mm',256);
 legend(g,2207,[{y:2655,c:'#0000ff',w:7,t:'MWR 2C PWV'},{y:2712,c:'#add8e6',w:7,t:'MWR 3C PWV'},{y:2769,t:'Phy-Iter PWV'},{y:2827,c:'#ff8c00',w:13,t:'(tan = MWR 2C only)'},{y:2884,t:'(brown = MWR 3C only)'}]);}
// Panel 4
{const {g,inner}=panelGroup(3,'panel-lwp');
 drawLine(inner,3,lwp_3c,'#add8e6',7,'series-mwr-3c-lwp');
 drawLine(inner,3,lwp_2c,'#4a4ad8',4,'series-mwr-2c-lwp');
 drawLine(inner,3,lwp_phy,'#ff8c00',11,'series-phy-iter-lwp');
 drawLine(inner,3,lwp_adiab,'#800080',5,'series-adiabatic-lwp');
 drawX(inner,3,lwp_xPurple,'#800080','marker-purple');
 drawX(inner,3,lwp_xBrown,'#b06a50','marker-brown');
 drawX(inner,3,lwp_xOrange,'#ff8c00','marker-orange');
 drawBands(inner,3,bands4_yellow,'#ffff00',0.5,'yellow-band');
 drawBands(inner,3,bands4_cyan,'#00ffff',0.5,'cyan-band');
 drawBands(inner,3,bands4_gray,'#cccccc',0.5,'gray-band');
 drawAxes(g,3,yTicks4,yTickLabels4,['log10 Liquid Water Path, log10(g/m',')'],230);
 legend(g,2306,[{y:3733,c:'#0000ff',w:7,t:'MWR 2C LWP'},{y:3790,c:'#add8e6',w:7,t:'MWR 3C LWP'},{y:3848,c:'#ff8c00',w:13,t:'Phy-Iter LWP'},{y:3905,c:'#800080',w:7,t:'Adiabatic LWP'}]);}
// Panel 5
{const {g,inner}=panelGroup(4,'panel-dq-flag');
 const y=ysf(4);
 for(const r of dqRuns){
   const s=el('line',{x1:xs(r[1]),y1:y(r[0]),x2:Math.max(xs(r[2]),xs(r[1])+4),y2:y(r[0]),stroke:'#ff8c00','stroke-width':8,'stroke-linecap':'round','stroke-dasharray':'12 5'},inner);
   
   
 }
 drawAxes(g,4,yTicks5,null,'MWR Phy Iter DQ Flag',245);}
</script>
</body></html>
